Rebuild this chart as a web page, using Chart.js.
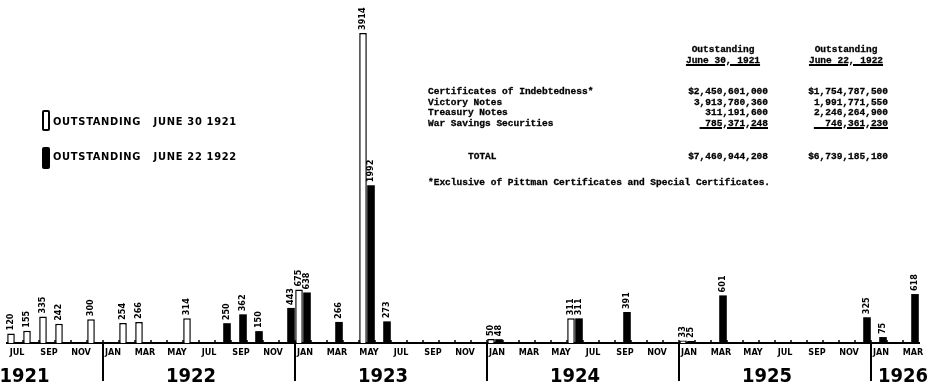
<!DOCTYPE html>
<html>
<head>
<meta charset="utf-8">
<script src="https://cdn.jsdelivr.net/npm/chart.js@4.4.0/dist/chart.umd.min.js"></script>
<style>
	body { margin: 0; background: #fff; }
	.wrap { position: relative; width: 929px; height: 383px; overflow: hidden; }
	canvas { position: absolute; left: 0; top: 0; }
	.belgi { position: absolute; left: 42px; width: 8px; box-sizing: border-box; border: 2px solid #000; border-radius: 2px; }
	.belgi-matn { position: absolute; left: 53px; font: bold 11px 'DejaVu Sans Condensed', sans-serif; letter-spacing: 0.7px; color: #000; }
	.jadval { position: absolute; font: bold 9.5px 'Liberation Mono', 'DejaVu Sans Mono', monospace; color: #000; white-space: pre; line-height: 10.5px; -webkit-text-stroke: 0.3px #000; }
	.o { text-align: right; }
	.u { text-decoration: underline; text-decoration-thickness: 1.5px; }
</style>
</head>
<body>
<div class="wrap">
	<canvas id="muddatGrafik" width="929" height="383"></canvas>

	<div class="belgi" style="top:110px;height:21px;background:#fff"></div>
	<div class="belgi-matn" style="top:115px">OUTSTANDING&nbsp;&nbsp; JUNE 30 1921</div>
	<div class="belgi" style="top:147px;height:22px;background:#000"></div>
	<div class="belgi-matn" style="top:150px">OUTSTANDING&nbsp;&nbsp; JUNE 22 1922</div>

	<div class="jadval" style="left:683px;top:45px;width:80px;text-align:center">Outstanding</div>
	<div class="jadval u" style="left:683px;top:56px;width:80px;text-align:center">June 30, 1921</div>
	<div class="jadval" style="left:806px;top:45px;width:80px;text-align:center">Outstanding</div>
	<div class="jadval u" style="left:806px;top:56px;width:80px;text-align:center">June 22, 1922</div>

	<div class="jadval" style="left:428px;top:87px">Certificates of Indebtedness*
Victory Notes
Treasury Notes
War Savings Securities</div>
	<div class="jadval o" style="left:660px;top:87px;width:108px">$2,450,601,000
3,913,780,360
311,191,600
<span class="u"> 785,371,248</span></div>
	<div class="jadval o" style="left:780px;top:87px;width:108px">$1,754,787,500
1,991,771,550
2,246,264,900
<span class="u">  746,361,230</span></div>

	<div class="jadval" style="left:468px;top:152px">TOTAL</div>
	<div class="jadval o" style="left:660px;top:152px;width:108px">$7,460,944,208</div>
	<div class="jadval o" style="left:780px;top:152px;width:108px">$6,739,185,180</div>

	<div class="jadval" style="left:428px;top:178px">*Exclusive of Pittman Certificates and Special Certificates.</div>
</div>

<script>
// Oylar (iyul 1921 - mart 1926)
const months = [
	'Jul 1921', 'Aug 1921', 'Sep 1921', 'Oct 1921', 'Nov 1921', 'Dec 1921',
	'Jan 1922', 'Feb 1922', 'Mar 1922', 'Apr 1922', 'May 1922', 'Jun 1922',
	'Jul 1922', 'Aug 1922', 'Sep 1922', 'Oct 1922', 'Nov 1922', 'Dec 1922',
	'Jan 1923', 'Feb 1923', 'Mar 1923', 'Apr 1923', 'May 1923', 'Jun 1923',
	'Jul 1923', 'Aug 1923', 'Sep 1923', 'Oct 1923', 'Nov 1923', 'Dec 1923',
	'Jan 1924', 'Feb 1924', 'Mar 1924', 'Apr 1924', 'May 1924', 'Jun 1924',
	'Jul 1924', 'Aug 1924', 'Sep 1924', 'Oct 1924', 'Nov 1924', 'Dec 1924',
	'Jan 1925', 'Feb 1925', 'Mar 1925', 'Apr 1925', 'May 1925', 'Jun 1925',
	'Jul 1925', 'Aug 1925', 'Sep 1925', 'Oct 1925', 'Nov 1925', 'Dec 1925',
	'Jan 1926', 'Feb 1926', 'Mar 1926',
]

// Oq ustunlar: 1921 yil 30 iyun holatiga (million $)
const maturities1921 = ['Jul 1921', 'Aug 1921', 'Sep 1921', 'Oct 1921', 'Dec 1921', 'Feb 1922', 'Mar 1922', 'Jun 1922', 'Jan 1923', 'May 1923', 'Jan 1924', 'Jun 1924', 'Jan 1925']
const outstanding1921 = [120, 155, 335, 242, 300, 254, 266, 314, 675, 3914, 50, 311, 33]

// Qora ustunlar: 1922 yil 22 iyun holatiga (million $)
const maturities1922 = ['Aug 1922', 'Sep 1922', 'Oct 1922', 'Dec 1922', 'Jan 1923', 'Mar 1923', 'May 1923', 'Jun 1923', 'Jan 1924', 'Jun 1924', 'Sep 1924', 'Jan 1925', 'Mar 1925', 'Dec 1925', 'Jan 1926', 'Mar 1926']
const outstanding1922 = [250, 362, 150, 443, 638, 266, 1992, 273, 48, 311, 391, 25, 601, 325, 75, 618]

const yearLabels = ['1921', '1922', '1923', '1924', '1925', '1926']
const yearLabelAt = [0.6, 11, 23, 35, 47, 55.5] // oy indeksi bo'yicha joylashuv
const yearStarts = ['Jan 1922', 'Jan 1923', 'Jan 1924', 'Jan 1925', 'Jan 1926']

const qalin = "'DejaVu Sans Condensed', 'DejaVu Sans', sans-serif"

const bezaklar = {
	id: 'bezaklar',
	afterDraw(chart) {
		const ctx = chart.ctx
		const x = chart.scales.x
		const pastki = chart.chartArea.bottom
		ctx.save()
		ctx.strokeStyle = '#000'
		ctx.fillStyle = '#000'

		// oy chegaralaridagi kichik belgilar
		ctx.lineWidth = 1.5
		for (let i = 1; i < months.length; i++) {
			const px = x.getPixelForValue(i - 0.5)
			ctx.beginPath()
			ctx.moveTo(px, pastki)
			ctx.lineTo(px, pastki - 3)
			ctx.stroke()
		}

		// yil ajratgichlari
		ctx.lineWidth = 2
		yearStarts.forEach((m) => {
			const px = x.getPixelForValue(months.indexOf(m) - 0.5)
			ctx.beginPath()
			ctx.moveTo(px, pastki)
			ctx.lineTo(px, pastki + 38)
			ctx.stroke()
		})

		// yillar
		ctx.font = 'bold 20px ' + qalin
		ctx.textAlign = 'center'
		ctx.textBaseline = 'alphabetic'
		yearLabels.forEach((y, i) => {
			ctx.fillText(y, x.getPixelForValue(yearLabelAt[i]), pastki + 39)
		})

		// ustun qiymatlari (vertikal)
		ctx.font = 'bold 9px ' + qalin
		ctx.textAlign = 'left'
		ctx.textBaseline = 'middle'
		chart.data.datasets.forEach((ds, di) => {
			const meta = chart.getDatasetMeta(di)
			meta.data.forEach((bar, i) => {
				ctx.save()
				ctx.translate(bar.x, bar.y - 3)
				ctx.rotate(-Math.PI / 2)
				ctx.fillText(String(ds.data[i].y), 0, 0)
				ctx.restore()
			})
		})
		ctx.restore()
	},
}

const grafikCtx = document.getElementById('muddatGrafik').getContext('2d')
new Chart(grafikCtx, {
	type: 'bar',
	data: {
		labels: months,
		datasets: [
			{
				label: 'Outstanding June 30 1921',
				data: maturities1921.map((m, i) => ({ x: m, y: outstanding1921[i] })),
				backgroundColor: '#fff',
				borderColor: '#000',
				borderWidth: 1.5,
			},
			{
				label: 'Outstanding June 22 1922',
				data: maturities1922.map((m, i) => ({ x: m, y: outstanding1922[i] })),
				backgroundColor: '#000',
				borderColor: '#000',
				borderWidth: 0,
			},
		],
	},
	options: {
		responsive: false,
		animation: false,
		devicePixelRatio: 1,
		layout: { padding: { left: 7, right: 10, top: 0, bottom: 0 } },
		datasets: { bar: { categoryPercentage: 1, barPercentage: 0.95 } },
		plugins: { legend: { display: false }, tooltip: { enabled: false } },
		scales: {
			x: {
				offset: true,
				grid: { display: false, drawTicks: false },
				border: { display: true, color: '#000', width: 2 },
				ticks: {
					autoSkip: false,
					maxRotation: 0,
					padding: 4,
					labelOffset: 2,
					color: '#000',
					font: { family: qalin, weight: 'bold', size: 9 },
					callback: (v, i) => (i % 2 === 0 ? months[i].slice(0, 3).toUpperCase() : ''),
				},
				afterFit: (s) => { s.height = 40 },
			},
			y: { display: false, min: 0, max: 4330 },
		},
	},
	plugins: [bezaklar],
})
</script>
</body>
</html>
